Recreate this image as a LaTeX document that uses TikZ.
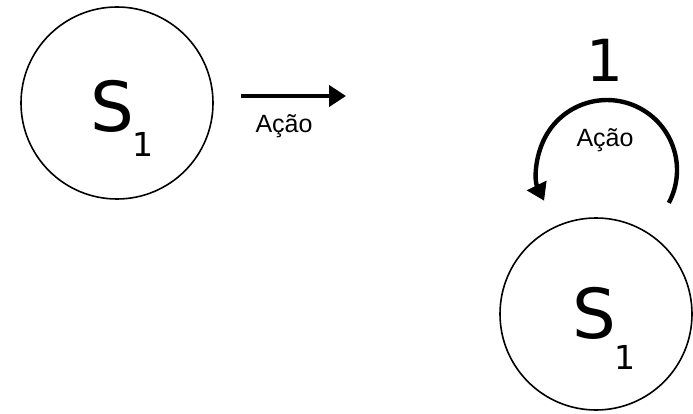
\documentclass[tikz,border=0pt]{standalone}
\usepackage{fontspec}
\setmainfont{DejaVu Sans}
\newfontfamily\acaofont{Liberation Sans}
\usetikzlibrary{arrows.meta}

\begin{document}
\begin{tikzpicture}[x=1pt,y=-1pt,
    state/.style={circle,draw,line width=1.6pt,minimum size=192pt,inner sep=0pt},
    bigS/.style={anchor=base,inner sep=0pt,font=\fontsize{69}{69}\selectfont},
    subone/.style={anchor=base,inner sep=0pt,font=\fontsize{33}{33}\selectfont},
    acao/.style={inner sep=0pt,font=\acaofont\fontsize{25}{25}\selectfont},
    thick arrow/.style={line width=4.4pt,-{Triangle[length=17pt,width=21pt]}}]
  \useasboundingbox (0,0) rectangle (693,414);

  % estado antes da acao
  \node[state] (s1a) at (117,103) {};
  \node[bigS] (s1aS) at (112.5,132) {S};
  \node[subone] (s1aI) at (142.5,157) {1};

  \coordinate (arrowA) at (241,96);
  \coordinate (arrowB) at (346,96);
  \draw[thick arrow] (arrowA) -- (arrowB);
  \node[acao] (acaoA) at (284,126) {Ação};

  % estado depois da acao
  \node[state] (s1b) at (596,314) {};
  \node[bigS] (s1bS) at (594,338) {S};
  \node[subone] (s1bI) at (625,369) {1};

  \node[anchor=base,inner sep=0pt,font=\fontsize{58}{58}\selectfont] (reward) at (605,82) {1};
  \coordinate (loopstart) at (668.8,202.9);
  \draw[thick arrow] (loopstart) arc[start angle=28,end angle=-206,radius=70];
  \node[acao] (acaoB) at (605,140) {Ação};
\end{tikzpicture}
\end{document}
